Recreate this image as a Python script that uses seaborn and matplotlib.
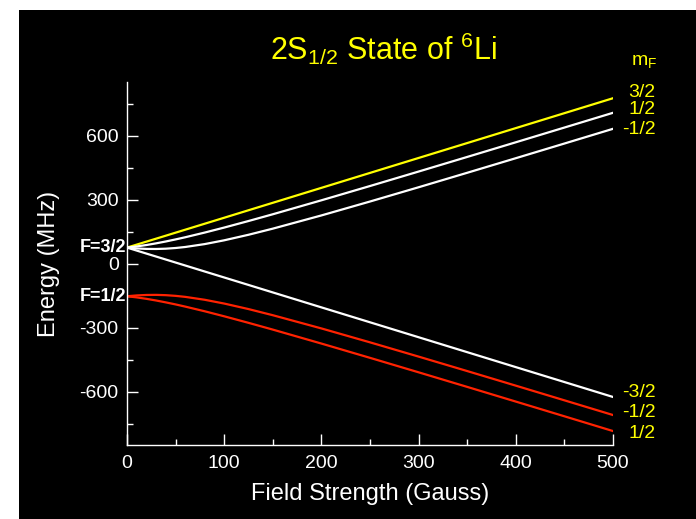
import matplotlib
matplotlib.use("Agg")
import matplotlib.pyplot as plt
from matplotlib.patches import Rectangle
from matplotlib.ticker import MultipleLocator
import seaborn as sns
import pandas as pd

# ---- data ----
field = [0, 10, 20, 30, 40, 50, 60, 80, 100, 125, 150, 200, 250, 300, 350, 400, 450, 500]
f32_mp32 = [76.1, 90.1, 104.1, 118.1, 132.1, 146.2, 160.2, 188.2, 216.2, 251.3, 286.3,
            356.4, 426.5, 496.6, 566.6, 636.7, 706.8, 776.9]
f32_mp12 = [76.1, 81.5, 88.2, 96.1, 104.9, 114.5, 124.7, 146.7, 170.1, 200.8, 232.5,
            298.0, 365.0, 432.9, 501.4, 570.2, 639.3, 708.5]
f32_mm12 = [76.1, 72.2, 70.0, 69.6, 71.0, 74.2, 79.0, 92.6, 110.3, 136.3, 165.0,
            227.0, 292.3, 359.2, 427.1, 495.5, 564.3, 633.4]
f32_mm32 = [76.1, 62.1, 48.0, 34.0, 20.0, 6.0, -8.0, -36.1, -64.1, -99.1, -134.2,
            -204.3, -274.3, -344.4, -414.5, -484.6, -554.6, -624.7]
f12_mm12 = [-152.1, -148.3, -146.1, -145.7, -147.1, -150.3, -155.1, -168.7, -186.4, -212.3,
            -241.1, -303.1, -368.4, -435.3, -503.1, -571.6, -640.4, -709.4]
f12_mp12 = [-152.1, -157.5, -164.3, -172.1, -181.0, -190.5, -200.8, -222.7, -246.2, -276.9,
            -308.6, -374.1, -441.1, -509.0, -577.4, -646.3, -715.3, -784.6]

series_names = ["F3/2 m3/2", "F3/2 m1/2", "F3/2 m-1/2", "F3/2 m-3/2", "F1/2 m-1/2", "F1/2 m1/2"]
series_values = [f32_mp32, f32_mp12, f32_mm12, f32_mm32, f12_mm12, f12_mp12]
series_colors = ["#FFFF00", "#FFFFFF", "#FFFFFF", "#FFFFFF", "#FF2200", "#FF2200"]

upper_labels = ["3/2", "1/2", "-1/2"]
upper_label_y = [806, 722, 628]
lower_labels = ["-3/2", "-1/2", "1/2"]
lower_label_y = [-605, -698, -797]

title_text = r"2S$_{\mathregular{1/2}}$ State of $^{\mathregular{6}}$Li"
xlabel = "Field Strength (Gauss)"
ylabel = "Energy (MHz)"

# ---- styling ----
plt.rcParams["font.family"] = ["Liberation Sans", "DejaVu Sans"]
plt.rcParams["mathtext.fontset"] = "custom"
plt.rcParams["mathtext.rm"] = "Liberation Sans"
plt.rcParams["mathtext.it"] = "Liberation Sans"
plt.rcParams["mathtext.bf"] = "Liberation Sans:bold"
plt.rcParams["axes.unicode_minus"] = False

W, H = 696, 519
fig = plt.figure(figsize=(W / 100, H / 100), dpi=100, facecolor="white")
fig.patches.append(Rectangle((19 / W, 0), 1 - 19 / W, (H - 10) / H,
                             transform=fig.transFigure, facecolor="black",
                             edgecolor="none", zorder=-10))

ax = fig.add_axes([127 / W, (H - 445) / H, 486 / W, 363 / H])
ax.set_facecolor("black")
ax.set_zorder(5)

rows = []
for name, vals in zip(series_names, series_values):
    for b, e in zip(field, vals):
        rows.append({"B": b, "E": e, "state": name})
df = pd.DataFrame(rows)

sns.lineplot(data=df, x="B", y="E", hue="state", hue_order=series_names,
             palette=dict(zip(series_names, series_colors)), legend=False,
             linewidth=1.6, ax=ax, sort=True)

ax.set_xlim(0, 500)
ax.set_ylim(-850, 853)
sns.despine(ax=ax)
for s in ["left", "bottom"]:
    ax.spines[s].set_color("white")
    ax.spines[s].set_linewidth(1.0)

ax.xaxis.set_major_locator(MultipleLocator(100))
ax.xaxis.set_minor_locator(MultipleLocator(50))
ax.yaxis.set_major_locator(MultipleLocator(300))
ax.yaxis.set_minor_locator(MultipleLocator(150))
ax.tick_params(which="both", direction="in", colors="white", width=1.0)
ax.tick_params(which="major", length=8, labelsize=14)
ax.tick_params(axis="y", which="major", pad=6)
ax.tick_params(axis="x", which="major", pad=7)
ax.tick_params(which="minor", length=4)
ax.set_yticks([-600, -300, 0, 300, 600])

ax.set_xlabel(xlabel, color="white", fontsize=17, labelpad=8)
ax.set_ylabel(ylabel, color="white", fontsize=17, labelpad=14)

fig.text(383 / W, 1 - 60 / H, title_text, color="#FFFF00", fontsize=22,
         ha="center", va="baseline")

# F labels at the axis
ax.annotate("F=3/2", xy=(0, 76.1), xytext=(-1, 0), textcoords="offset pixels",
            ha="right", va="center", color="white", fontsize=13, fontweight="bold",
            annotation_clip=False)
ax.annotate("F=1/2", xy=(0, -152.1), xytext=(-1, 0), textcoords="offset pixels",
            ha="right", va="center", color="white", fontsize=13, fontweight="bold",
            annotation_clip=False)

# mF labels at the right
lab_x = 544
for t, y in zip(upper_labels + lower_labels, upper_label_y + lower_label_y):
    ax.text(lab_x, y, t, color="#FFFF00", fontsize=14, ha="right", va="center",
            clip_on=False)
ax.text(519, 950, r"m$_{\mathregular{F}}$", color="#FFFF00", fontsize=14,
        ha="left", va="center", clip_on=False)

fig.savefig("out.png", dpi=100, facecolor="white")
